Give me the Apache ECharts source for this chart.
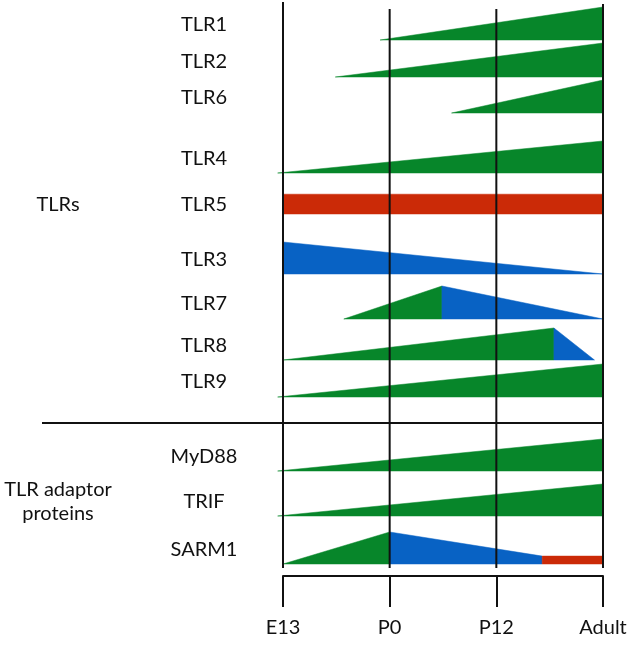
<!DOCTYPE html>
<html>
<head>
<meta charset="utf-8">
<script src="https://cdn.jsdelivr.net/npm/echarts@6/dist/echarts.min.js"></script>
<style>html,body{margin:0;padding:0;background:#fff}#c{width:630px;height:645px}</style>
</head>
<body>
<div id="c"></div>
<script>
// Developmental stages (x axis, evenly spaced)
const stages = ['E13', 'P0', 'P12', 'Adult'];
// Genes (rows, top to bottom)
const genes = ['TLR1', 'TLR2', 'TLR6', 'TLR4', 'TLR5', 'TLR3', 'TLR7', 'TLR8', 'TLR9', 'MyD88', 'TRIF', 'SARM1'];
// Baseline of each row along the vertical track axis
const rowBase = [40, 77, 113, 173, 214, 274, 319, 360, 397, 471, 516, 564];
// Segments: [gene, startStage, startLevel, endStage, endLevel] (level 1 = max expression)
const greenSegments = [
  ['TLR1', 0.91, 0, 3, 1],
  ['TLR2', 0.49, 0, 3, 1.03],
  ['TLR6', 1.58, 0, 3, 1],
  ['TLR4', -0.05, 0, 3, 0.97],
  ['TLR7', 0.57, 0, 1.49, 1],
  ['TLR8', 0, 0, 2.54, 0.97],
  ['TLR9', -0.05, 0, 3, 1],
  ['MyD88', -0.05, 0, 3, 0.97],
  ['TRIF', -0.05, 0, 3, 0.97],
  ['SARM1', 0, 0, 1, 0.97]
];
const blueSegments = [
  ['TLR3', 0, 0.97, 3, 0],
  ['TLR7', 1.49, 1, 3, 0],
  ['TLR8', 2.54, 0.97, 2.92, 0],
  ['SARM1', 1, 0.97, 2.43, 0.24]
];
const redSegments = [
  ['TLR5', 0, 0.6, 3, 0.6],
  ['SARM1', 2.43, 0.24, 3, 0.24]
];
// Group labels: [text, gene row to align with]
const groups = [['TLRs', 'TLR5'], ['TLR adaptor\nproteins', 'TRIF']];
// Vertical stage lines: top of each line on the track axis
const stageLineTop = [2, 9, 9, 4];
const stageLineBottom = 568;
const separatorY = 423;

const LEVEL = 33;          // track units for level 1
const FONT = 'Lato';
const COLORS = { green: '#07862a', blue: '#0862c4', red: '#cb2a07' };

function maxLevel(g) {
  let m = 0;
  [greenSegments, blueSegments, redSegments].forEach(arr => arr.forEach(s => {
    if (s[0] === g) m = Math.max(m, s[2], s[4]);
  }));
  return m;
}

function segSeries(arr, color) {
  return {
    type: 'custom',
    z: 2,
    data: arr.map(s => [s[1], s[3], s[2], s[4], genes.indexOf(s[0])]),
    renderItem: function (params, api) {
      const x0 = api.value(0), x1 = api.value(1), l0 = api.value(2), l1 = api.value(3);
      const base = rowBase[api.value(4)];
      const pts = [
        api.coord([x0, base - l0 * LEVEL]),
        api.coord([x1, base - l1 * LEVEL]),
        api.coord([x1, base]),
        api.coord([x0, base])
      ];
      return { type: 'polygon', shape: { points: pts }, style: { fill: color, stroke: color, lineWidth: 0.5 } };
    }
  };
}

const chart = echarts.init(document.getElementById('c'));
chart.setOption({
  animation: false,
  backgroundColor: '#fff',
  grid: { left: 283, right: 27, top: 0, height: 576 },
  xAxis: {
    type: 'value', min: 0, max: 3, interval: 1, position: 'bottom',
    axisLine: { show: true, onZero: false, lineStyle: { color: '#111', width: 2 } },
    axisTick: { show: true, length: 31, lineStyle: { color: '#111', width: 2 } },
    axisLabel: { margin: 42, fontSize: 20, fontFamily: FONT, color: '#111', formatter: v => stages[v] || '' },
    splitLine: { show: false }
  },
  yAxis: {
    type: 'value', min: 0, max: 576, inverse: true, show: false, splitLine: { show: false }
  },
  series: [
    segSeries(greenSegments, COLORS.green),
    segSeries(blueSegments, COLORS.blue),
    segSeries(redSegments, COLORS.red),
    {
      type: 'custom', z: 5,
      data: stages.map((s, i) => [i, stageLineTop[i]]),
      renderItem: function (params, api) {
        const a = api.coord([api.value(0), api.value(1)]);
        const b = api.coord([api.value(0), stageLineBottom]);
        return { type: 'line', shape: { x1: a[0], y1: a[1], x2: b[0], y2: b[1] }, style: { stroke: '#111', lineWidth: 2 } };
      }
    },
    {
      type: 'custom', z: 5,
      data: [[3, separatorY]],
      renderItem: function (params, api) {
        const b = api.coord([api.value(0), api.value(1)]);
        return { type: 'line', shape: { x1: 42, y1: b[1], x2: b[0] + 1, y2: b[1] }, style: { stroke: '#111', lineWidth: 2 } };
      }
    },
    {
      type: 'custom', z: 5,
      data: genes.map((g, i) => [i]),
      renderItem: function (params, api) {
        const i = api.value(0);
        const y = api.coord([0, rowBase[i] - 0.46 * LEVEL * maxLevel(genes[i])])[1];
        return { type: 'text', x: 204, y: y, style: { text: genes[i], fontSize: 20, fontFamily: FONT, fill: '#111', align: 'center', verticalAlign: 'middle' } };
      }
    },
    {
      type: 'custom', z: 5,
      data: groups.map((g, i) => [i]),
      renderItem: function (params, api) {
        const g = groups[api.value(0)];
        const gi = genes.indexOf(g[1]);
        const y = api.coord([0, rowBase[gi] - 0.46 * LEVEL * maxLevel(g[1])])[1];
        return { type: 'text', x: 58, y: y, style: { text: g[0], fontSize: 20, lineHeight: 24, fontFamily: FONT, fill: '#111', align: 'center', verticalAlign: 'middle' } };
      }
    }
  ]
});
</script>
</body>
</html>
